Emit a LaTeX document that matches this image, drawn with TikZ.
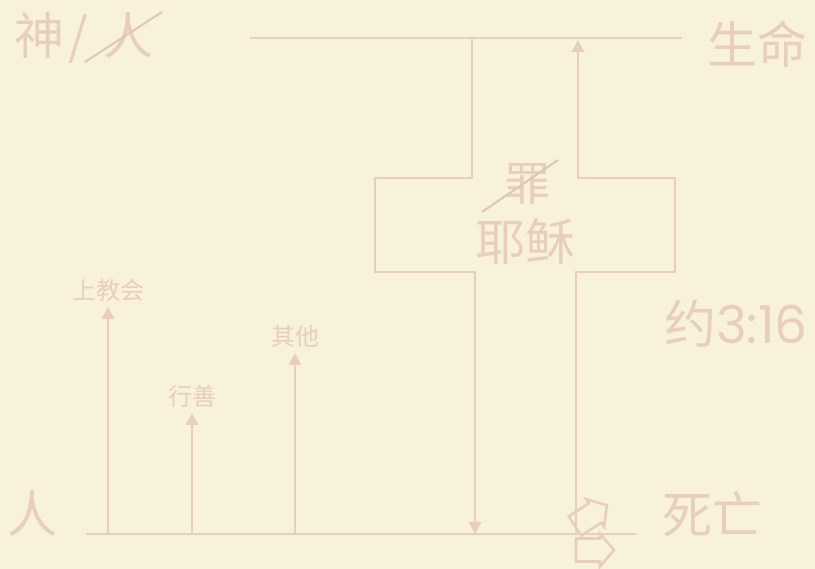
\documentclass[tikz,border=0pt]{standalone}
\usepackage{fontspec}
\setmainfont{Noto Sans CJK SC}
\newfontfamily\digitfont{Poppins}
\usetikzlibrary{arrows.meta,positioning,calc}
\definecolor{parchment}{RGB}{249,242,219}
\definecolor{inkrose}{RGB}{232,206,191}
\definecolor{strikerose}{RGB}{224,198,184}
\tikzset{
  bigtext/.style={inkrose,font=\fontsize{50}{56}\selectfont,inner sep=2pt},
  smalltext/.style={inkrose,font=\fontsize{24}{28}\selectfont,inner sep=5pt},
  rule/.style={inkrose,line width=2.9pt},
  rise/.style={rule,-{Triangle[length=12pt,width=12pt]}},
  strike/.style={strikerose,line width=2pt},
  blockarrow/.pic={\draw[inkrose,line width=2.6pt] (0,-11.5) -- (24,-11.5) -- (24,-16.5) -- (38,0) -- (24,16.5) -- (24,11.5) -- (0,11.5) -- cycle;}
}
\begin{document}
\begin{tikzpicture}[x=1pt,y=-1pt]
\fill[parchment] (0,0) rectangle (815,569);
\useasboundingbox (0,0) rectangle (815,569);

\node[bigtext] (godman) at (84,38) {神\hspace{4pt}/\hspace{15pt}人};
\node[bigtext] (life) at (757,44) {生命};
\node[bigtext] (man) at (32,513) {人};
\node[bigtext] (death) at (712,514) {死亡};
\node[bigtext,font=\fontsize{46}{52}\selectfont] (sin) at (527,184) {罪};
\node[bigtext] (jesus) at (525,241) {耶稣};
\node[bigtext,font=\fontsize{52}{58}\selectfont] (john) at (736,324) {约{\digitfont 3:16}};

\coordinate (heaven w) at (250,38);
\coordinate (heaven e) at (682,38);
\coordinate (earth w) at (86,534);
\coordinate (earth e) at (636,534);
\draw[rule] (heaven w) -- (heaven e);
\draw[rule] (earth w) -- (earth e);

\foreach \name/\x/\tip/\txt in {church/108/307/上教会, good/192/413/行善, other/295/353/其他}{
  \coordinate (\name foot) at (\x,534);
  \node[smalltext,anchor=south] (\name) at (\x,\tip) {\txt};
  \draw[rise] (\name foot) -- (\name);
}

\coordinate (cross top) at (472,38);
\coordinate (cross foot) at (475,534);
\coordinate (cross rise) at (576,534);
\coordinate (cross head) at (578,40);
\draw[rise] (cross top) -- (472,178) -- (375,178) -- (375,272) -- (475,272) -- (cross foot);
\draw[rise] (cross rise) -- (576,272) -- (675,272) -- (675,178) -- (578,178) -- (cross head);

\draw[strike] (85,62) -- (162,12);
\draw[strike] (482,212) -- (558,160);

\pic at (576,550) {blockarrow};
\pic[rotate=33] at (575,526) {blockarrow};
\end{tikzpicture}
\end{document}
